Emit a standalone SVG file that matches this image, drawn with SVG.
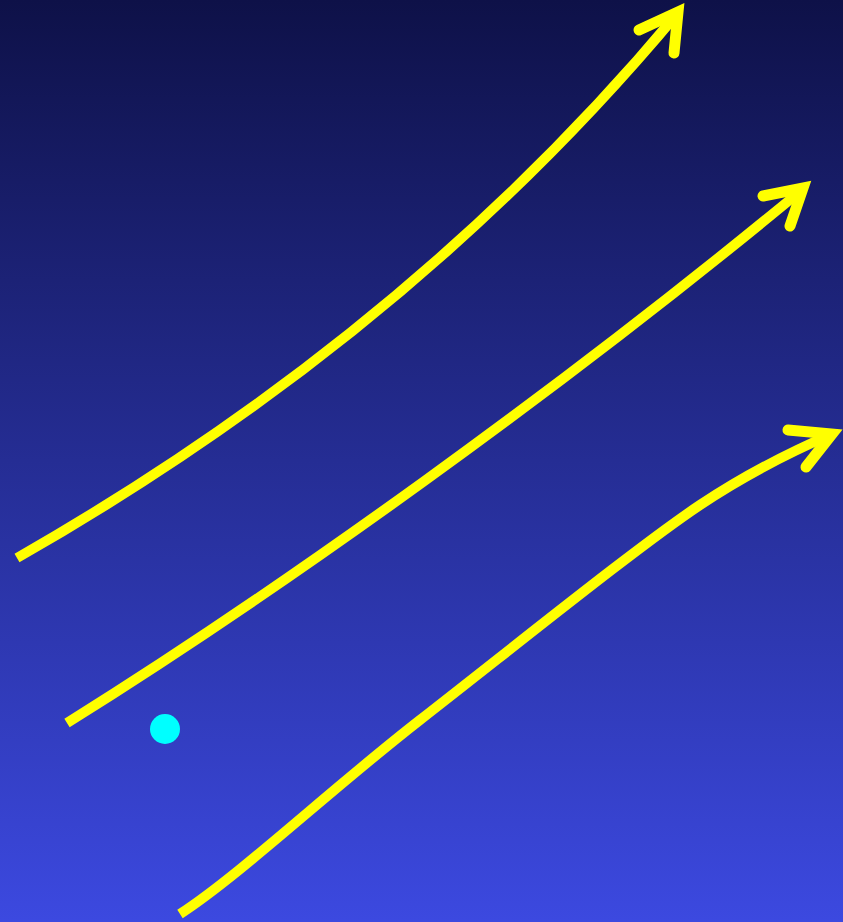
<svg xmlns="http://www.w3.org/2000/svg" width="843" height="922" viewBox="0 0 843 922">
  <defs>
    <linearGradient id="bg" x1="0" y1="0" x2="0" y2="1">
      <stop offset="0" stop-color="#0e1148"/>
      <stop offset="1" stop-color="#3c49e0"/>
    </linearGradient>
    <style>
      .shaft { fill: none; stroke: #ffff00; stroke-width: 10; stroke-linecap: butt; }
      .head { fill: none; stroke: #ffff00; stroke-width: 11; stroke-linecap: round; stroke-linejoin: miter; stroke-miterlimit: 10; }
    </style>
  </defs>
  <rect x="0" y="0" width="843" height="922" fill="url(#bg)"/>
  <g id="connectors">
    <g id="arrow1">
      <path class="shaft" d="M17,558 C250,425 480,250 677,14"/>
      <polyline class="head" points="639,30 678,12 674,53"/>
    </g>
    <g id="arrow2">
      <path class="shaft" d="M67,723 C280,590 560,390 803,189"/>
      <polyline class="head" points="763,196 803,188 790,226"/>
    </g>
    <g id="arrow3">
      <path class="shaft" d="M180,914 C240,875 330,790 420,720 C520,642 640,545 700,505 C745,475 795,450 832,434"/>
      <polyline class="head" points="788,430 832,434 806,467"/>
    </g>
  </g>
  <g id="dot">
    <circle cx="165" cy="729" r="15" fill="#00ffff"/>
  </g>
</svg>
